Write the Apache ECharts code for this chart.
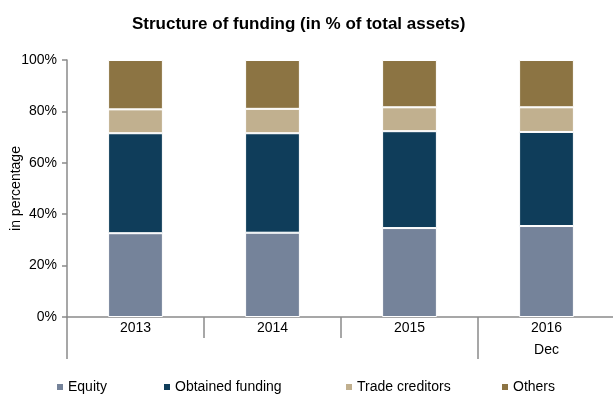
<!DOCTYPE html>
<html><head><meta charset="utf-8">
<script src="https://cdn.jsdelivr.net/npm/echarts@6/dist/echarts.min.js"></script>
<style>html,body{margin:0;padding:0;background:#fff}#c{width:613px;height:394px}</style>
</head><body><div id="c"></div>
<script>
var years = ['2013', '2014', '2015', '2016'];
var subLabels = ['', '', '', 'Dec'];
var equity = [32.6, 32.8, 34.6, 35.4];
var obtained = [38.9, 38.7, 37.7, 36.6];
var trade = [9.3, 9.5, 9.3, 9.6];
var others = [19.2, 19.0, 18.4, 18.4];
var yTicks = [0, 20, 40, 60, 80, 100];

var FONT = '"Liberation Sans", Arial, sans-serif';
var names = ['Equity', 'Obtained funding', 'Trade creditors', 'Others'];
var colors = ['#75839a', '#0f3d5a', '#c1b08f', '#8c7443'];
var values = [equity, obtained, trade, others];
var legendLeft = [50, 157, 339, 495];

var chart = echarts.init(document.getElementById('c'));
chart.setOption({
  animation: false,
  title: {
    text: 'Structure of funding (in % of total assets)',
    left: 127, top: 11,
    textStyle: { fontFamily: FONT, fontSize: 17, fontWeight: 'bold', color: '#000' }
  },
  legend: names.map(function (n, i) {
    return {
      data: [n], left: legendLeft[i], top: 375,
      icon: 'rect', itemWidth: 8, itemHeight: 8, itemGap: 4,
      textStyle: { fontFamily: FONT, fontSize: 14, color: '#000', padding: [0, 0, 0, -1] }
    };
  }),
  grid: { left: 67, right: -2, top: 60, bottom: 77, containLabel: false, outerBoundsMode: 'none' },
  xAxis: [{
    type: 'category', data: years, position: 'bottom',
    axisLine: { show: true, lineStyle: { color: '#8a8a8a', width: 1.5 } },
    axisTick: { show: true, alignWithLabel: false, length: 21, lineStyle: { color: '#8a8a8a', width: 1.5 } },
    axisLabel: { margin: 4, fontFamily: FONT, fontSize: 14, color: '#000' }
  }, {
    type: 'category', data: years, position: 'bottom', gridIndex: 0,
    axisLine: { show: false },
    axisTick: { show: true, alignWithLabel: false, length: 42,
      interval: function (i) { return i === 0 || i === 3; },
      lineStyle: { color: '#8a8a8a', width: 1.5 } },
    axisLabel: { margin: 26, fontFamily: FONT, fontSize: 14, color: '#000',
      formatter: function (v) { return subLabels[years.indexOf(v)]; } }
  }],
  yAxis: {
    type: 'value', min: yTicks[0], max: yTicks[yTicks.length - 1], interval: 20,
    name: 'in percentage', nameLocation: 'middle', nameGap: 44, nameMoveOverlap: false,
    nameTextStyle: { fontFamily: FONT, fontSize: 14, color: '#000' },
    axisLine: { show: true, lineStyle: { color: '#8a8a8a', width: 1.5 } },
    axisTick: { show: true, inside: false, length: 5, lineStyle: { color: '#8a8a8a', width: 1.5 } },
    axisLabel: { margin: 10, fontFamily: FONT, fontSize: 14, color: '#000', formatter: '{value}%' },
    splitLine: { show: false }
  },
  series: names.map(function (n, i) {
    return {
      name: n, type: 'bar', stack: 'total', xAxisIndex: 0,
      data: values[i], barWidth: '40%',
      itemStyle: { color: colors[i], borderColor: '#fff', borderWidth: 1 }
    };
  })
});
</script></body></html>
